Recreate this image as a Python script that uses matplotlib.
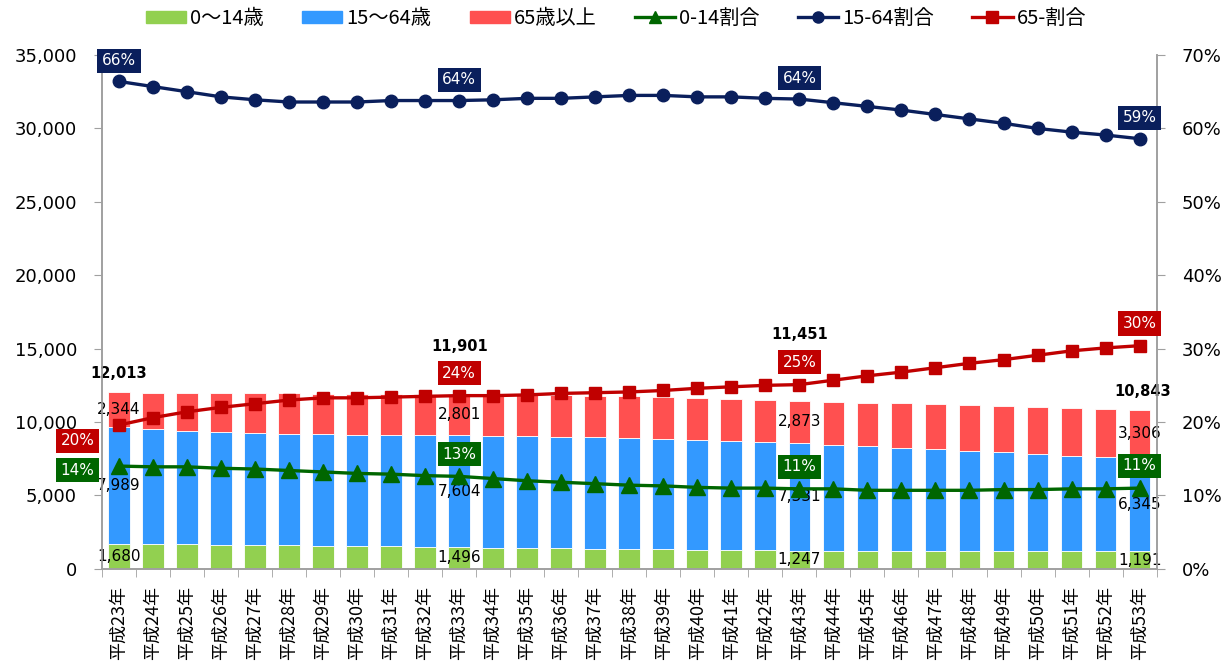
import matplotlib
matplotlib.use('Agg')
import matplotlib.pyplot as plt
import numpy as np
from matplotlib.patches import Patch
from matplotlib.lines import Line2D

plt.rcParams['font.family'] = ['DejaVu Sans', 'Noto Sans CJK JP']

# 年次ラベル
years = ['平成%d年' % y for y in range(23, 54)]

# 人口（棒グラフ）
pop_0_14 = [1680, 1680, 1667, 1641, 1627, 1601, 1576, 1550, 1537, 1512, 1496,
            1449, 1423, 1396, 1369, 1341, 1324, 1294, 1276, 1268, 1247,
            1242, 1212, 1206, 1199, 1193, 1198, 1191, 1195, 1188, 1191]
pop_15_64 = [7989, 7848, 7757, 7699, 7642, 7611, 7591, 7597, 7591, 7598, 7604,
             7615, 7611, 7607, 7587, 7577, 7536, 7498, 7447, 7379, 7331,
             7221, 7138, 7044, 6939, 6835, 6731, 6618, 6510, 6431, 6345]
pop_65 = [2344, 2472, 2566, 2635, 2691, 2736, 2769, 2779, 2789, 2799, 2801,
          2816, 2821, 2827, 2844, 2847, 2860, 2868, 2877, 2871, 2873,
          2927, 2980, 3020, 3072, 3122, 3161, 3221, 3255, 3281, 3306]

# 割合（折れ線, %）
rate_0_14 = [14.0, 13.9, 13.9, 13.7, 13.6, 13.4, 13.2, 13.0, 12.9, 12.7, 12.6,
             12.3, 12.0, 11.8, 11.6, 11.4, 11.3, 11.1, 11.0, 11.0, 10.9,
             10.9, 10.7, 10.7, 10.7, 10.7, 10.8, 10.8, 10.9, 10.9, 11.0]
rate_15_64 = [66.4, 65.7, 65.0, 64.3, 63.9, 63.6, 63.6, 63.6, 63.8, 63.8, 63.8,
              63.9, 64.1, 64.1, 64.3, 64.5, 64.5, 64.3, 64.3, 64.1, 64.0,
              63.5, 63.0, 62.5, 61.9, 61.3, 60.7, 60.0, 59.5, 59.1, 58.6]
rate_65 = [19.6, 20.6, 21.4, 22.0, 22.5, 23.0, 23.3, 23.3, 23.4, 23.5, 23.6,
           23.6, 23.7, 23.9, 24.0, 24.1, 24.3, 24.6, 24.8, 25.0, 25.1,
           25.7, 26.3, 26.8, 27.4, 28.0, 28.5, 29.1, 29.7, 30.1, 30.4]

# ラベルを表示する年（平成23, 33, 43, 53）と合計
label_idx = [0, 10, 20, 30]
total_shown = [12013, 11901, 11451, 10843]

c_green, c_blue, c_red = '#92D050', '#3399FF', '#FF5050'
l_green, l_navy, l_red = '#006600', '#0A1F5C', '#C00000'

fig = plt.figure(figsize=(12.32, 6.63), dpi=100)
ax = fig.add_axes([0.0828, 0.142, 0.856, 0.775])
ax2 = ax.twinx()

x = np.arange(len(years))
a = np.array(pop_0_14)
b = np.array(pop_15_64)
c = np.array(pop_65)
w = 0.64
ax.bar(x, a, w, color=c_green, edgecolor='white', linewidth=0.6)
ax.bar(x, b, w, bottom=a, color=c_blue, edgecolor='white', linewidth=0.6)
ax.bar(x, c, w, bottom=a + b, color=c_red, edgecolor='white', linewidth=0.6)

ax.set_xlim(-0.5, len(years) - 0.5)
ax.set_ylim(0, 35000)
ax.set_yticks(np.arange(0, 35001, 5000))
ax.set_yticklabels(['{:,}'.format(v) for v in range(0, 35001, 5000)], fontsize=13)
ax.set_xticks(x)
ax.set_xticklabels(years, rotation=90, fontsize=13, family=['Noto Sans CJK JP'])
ax.set_xticks(np.arange(-0.5, len(years), 1), minor=True)
ax.tick_params(axis='x', which='major', length=0, pad=12)
ax.tick_params(axis='x', which='minor', length=6, color='#A0A0A0')
ax.tick_params(axis='y', length=6, color='#A0A0A0', pad=12)

ax2.set_ylim(0, 70)
ax2.set_yticks(np.arange(0, 71, 10))
ax2.set_yticklabels(['%d%%' % v for v in range(0, 71, 10)], fontsize=13)
ax2.tick_params(axis='y', length=6, color='#A0A0A0', pad=12)

for axis in (ax, ax2):
    axis.spines['top'].set_visible(False)
    for s in ('left', 'right', 'bottom'):
        axis.spines[s].set_color('#A0A0A0')
        axis.spines[s].set_linewidth(1.2)

ax2.plot(x, rate_0_14, color=l_green, lw=2.4, marker='^', ms=11)
ax2.plot(x, rate_15_64, color=l_navy, lw=2.4, marker='o', ms=9)
ax2.plot(x, rate_65, color=l_red, lw=2.4, marker='s', ms=9)

# 棒のデータラベル
for k, i in enumerate(label_idx):
    ax.text(i, a[i] / 2, '{:,}'.format(a[i]), ha='center', va='center', fontsize=11)
    ax.text(i, a[i] + b[i] / 2, '{:,}'.format(b[i]), ha='center', va='center', fontsize=11)
    ax.text(i, a[i] + b[i] + c[i] / 2, '{:,}'.format(c[i]), ha='center', va='center', fontsize=11)

tot_off = [(0, 8), (0, 29), (0, 42), (2, 8)]
for k, i in enumerate(label_idx):
    top = a[i] + b[i] + c[i]
    ax.annotate('{:,}'.format(total_shown[k]), (i, top), xytext=tot_off[k],
                textcoords='offset points', ha='center', va='bottom',
                fontsize=10.5, fontweight='bold')

# 割合ラベル（背景付き）
def box(i, val, color, off):
    ax2.annotate('%d%%' % round(val), (i, val), xytext=off, textcoords='offset points',
                 ha='center', va='center', fontsize=11, color='white',
                 bbox=dict(boxstyle='square,pad=0.3', fc=color, ec='none'))

for i in label_idx:
    box(i, rate_15_64[i], l_navy, (0, 15))
    if i == 0:
        box(i, rate_65[i], l_red, (-30, -11.5))
        box(i, rate_0_14[i], l_green, (-30, -3))
    else:
        box(i, rate_65[i], l_red, (0, 16))
        box(i, rate_0_14[i], l_green, (0, 16))

handles = [
    Patch(color=c_green, label='0〜14歳'),
    Patch(color=c_blue, label='15〜64歳'),
    Patch(color=c_red, label='65歳以上'),
    Line2D([], [], color=l_green, lw=2.4, marker='^', ms=9, label='0-14割合'),
    Line2D([], [], color=l_navy, lw=2.4, marker='o', ms=8, label='15-64割合'),
    Line2D([], [], color=l_red, lw=2.4, marker='s', ms=8, label='65-割合'),
]
fig.legend(handles=handles, loc='upper center', bbox_to_anchor=(0.5, 1.015), ncol=6,
           frameon=False, prop={'family': 'Noto Sans CJK JP', 'size': 14.5},
           handlelength=2.0, handleheight=0.6, handletextpad=0.2, columnspacing=1.9)

fig.savefig('out.png', dpi=100)
